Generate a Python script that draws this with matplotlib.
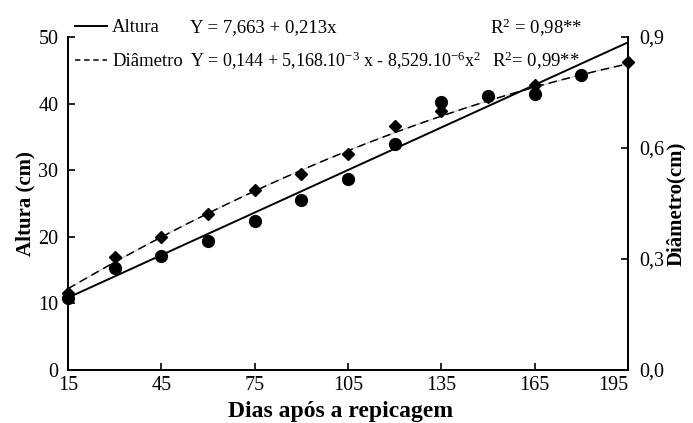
import matplotlib
matplotlib.use('Agg')
import matplotlib.pyplot as plt
from matplotlib.lines import Line2D
import numpy as np

plt.rcParams['font.family'] = ['Liberation Serif', 'DejaVu Serif']
plt.rcParams['mathtext.fontset'] = 'custom'
plt.rcParams['mathtext.rm'] = 'Liberation Serif'
plt.rcParams['mathtext.it'] = 'Liberation Serif:italic'
plt.rcParams['mathtext.bf'] = 'Liberation Serif:bold'
plt.rcParams['mathtext.default'] = 'regular'

# ---- data ----
dias_altura = [15, 30, 45, 60, 75, 90, 105, 120, 135, 150, 165, 180]
altura = [10.8, 15.3, 17.1, 19.4, 22.4, 25.5, 28.7, 34.0, 40.2, 41.1, 41.4, 44.3]
dias_diametro = [15, 30, 45, 60, 75, 90, 105, 120, 135, 150, 165, 180, 195]
diametro = [0.208, 0.305, 0.359, 0.422, 0.486, 0.530, 0.584, 0.659, 0.700,
            0.738, 0.770, 0.797, 0.832]
# regression coefficients shown in the chart (lowest order first)
altura_coef = [7.663, 0.213]
diametro_coef = [0.144, 5.168e-3, -8.529e-6]

x_ticks = [15, 45, 75, 105, 135, 165, 195]
y_left_ticks = [0, 10, 20, 30, 40, 50]
y_right_ticks = [0.0, 0.3, 0.6, 0.9]
y_right_labels = ['0,0', '0,3', '0,6', '0,9']

W, H = 693, 423
fig = plt.figure(figsize=(W / 100, H / 100), dpi=100)
L, R, B, T = 68, 628, 370, 37
ax = fig.add_axes([L / W, 1 - B / H, (R - L) / W, (B - T) / H])
ax2 = ax.twinx()

xs = np.linspace(min(x_ticks), max(x_ticks), 200)
fit_alt = np.polynomial.polynomial.polyval(xs, altura_coef)
fit_dia = np.polynomial.polynomial.polyval(xs, diametro_coef)

lw = 1.3
ax2.plot(xs, fit_dia, color='#c8c8c8', lw=0.8, zorder=1)
ax2.plot(xs, fit_dia, color='black', lw=1.1, linestyle=(0, (5.5, 3.3)), zorder=2)
ax2.plot(dias_diametro, diametro, linestyle='none', marker='D', ms=6,
         color='black', zorder=3, clip_on=False)
ax.plot(xs, fit_alt, color='black', lw=1.4, zorder=2)
ax.plot(dias_altura, altura, linestyle='none', marker='o', ms=8.5,
        color='black', zorder=3, clip_on=False)
ax.set_zorder(ax2.get_zorder() + 1)
ax.patch.set_visible(False)

ax.set_xlim(15, 195)
ax.set_ylim(0, 50)
ax2.set_ylim(0, 0.9)
ax.set_xticks(x_ticks)
ax.set_xticklabels([str(v) for v in x_ticks])
ax.set_yticks(y_left_ticks)
ax.set_yticklabels([str(v) for v in y_left_ticks])
ax2.set_yticks(y_right_ticks)
ax2.set_yticklabels(y_right_labels)

for a in (ax, ax2):
    a.spines['top'].set_visible(False)
    for s in a.spines.values():
        s.set_linewidth(lw)
ax.tick_params(axis='both', direction='in', length=5, width=1.2, labelsize=14.5)
ax.tick_params(axis='y', pad=7)
ax.tick_params(axis='x', pad=4)
ax2.tick_params(axis='y', direction='in', length=5, width=1.2, labelsize=14.5, pad=8)
ax.get_xticklabels()[-1].set_ha('right')

ax.set_xlabel('Dias após a repicagem', fontsize=17, fontweight='bold')
ax.xaxis.set_label_coords(0.486, -0.093)
ax.set_ylabel('Altura (cm)', fontsize=15, fontweight='bold', labelpad=2)
ax2.set_ylabel('Diâmetro(cm)', fontsize=15, fontweight='bold', labelpad=1)

handles = [Line2D([], [], color='black', lw=1.4),
           Line2D([], [], color='black', lw=1.1, linestyle=(0, (3.5, 2.5)))]
ax.legend(handles, ['Altura', 'Diâmetro'], loc='upper left',
          bbox_to_anchor=(75 / W, 1 - 19 / H), bbox_transform=fig.transFigure,
          frameon=False, fontsize=13.5, handlelength=1.7, handletextpad=0.28,
          labelspacing=0.9, borderpad=0, borderaxespad=0)

def ftxt(x, y, s, fs=13.5):
    fig.text(x / W, 1 - y / H, s, fontsize=fs, ha='left', va='center')

ftxt(190, 28, 'Y = 7,663 + 0,213x')
ftxt(490, 28, 'R$^{2}$ = 0,98**')
ftxt(190, 61, 'Y = 0,144 + 5,168.10$^{-3}$ x - 8,529.10$^{-6}$x$^{2}$', fs=13)
ftxt(492, 61, 'R$^{2}$= 0,99**')

fig.savefig('out.png', dpi=100)
